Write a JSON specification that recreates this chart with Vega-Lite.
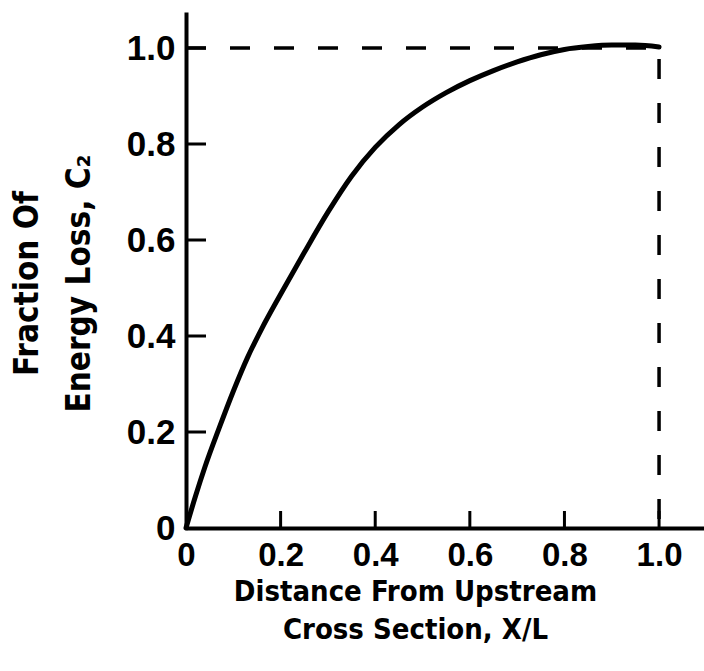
{
  "$schema": "https://vega.github.io/schema/vega-lite/v6.json",
  "autosize": "none",
  "padding": {"left": 186, "top": 12, "right": 0, "bottom": 143},
  "width": 518,
  "height": 516,
  "background": "white",
  "config": {
    "view": {"stroke": null},
    "axis": {
      "grid": false,
      "ticks": false,
      "domainColor": "black",
      "domainWidth": 4,
      "labelColor": "black",
      "labelFont": "Liberation Sans, sans-serif",
      "labelFontWeight": "bold",
      "titleColor": "black",
      "titleFont": "DejaVu Sans Condensed, sans-serif",
      "titleFontWeight": "bold"
    }
  },
  "datasets": {
    "curve": [
      {"x": 0.0, "c": 0.0},
      {"x": 0.02, "c": 0.066},
      {"x": 0.04, "c": 0.127},
      {"x": 0.07, "c": 0.208},
      {"x": 0.10, "c": 0.285},
      {"x": 0.13, "c": 0.355},
      {"x": 0.16, "c": 0.415},
      {"x": 0.20, "c": 0.487},
      {"x": 0.25, "c": 0.574},
      {"x": 0.30, "c": 0.658},
      {"x": 0.35, "c": 0.733},
      {"x": 0.40, "c": 0.793},
      {"x": 0.45, "c": 0.840},
      {"x": 0.50, "c": 0.877},
      {"x": 0.55, "c": 0.907},
      {"x": 0.60, "c": 0.932},
      {"x": 0.65, "c": 0.953},
      {"x": 0.70, "c": 0.971},
      {"x": 0.75, "c": 0.986},
      {"x": 0.80, "c": 0.997},
      {"x": 0.85, "c": 1.003},
      {"x": 0.90, "c": 1.006},
      {"x": 0.95, "c": 1.006},
      {"x": 1.00, "c": 1.002}
    ],
    "dash": [
      {"i": 0, "x": 0.0, "c": 1.0},
      {"i": 1, "x": 1.0, "c": 1.0},
      {"i": 2, "x": 1.0, "c": 0.0}
    ],
    "xticks": [{"v": 0.2}, {"v": 0.4}, {"v": 0.6}, {"v": 0.8}, {"v": 1.0}],
    "yticks": [{"v": 0.2}, {"v": 0.4}, {"v": 0.6}, {"v": 0.8}, {"v": 1.0}]
  },
  "layer": [
    {
      "data": {"name": "curve"},
      "mark": {"type": "line", "color": "black", "strokeWidth": 5, "interpolate": "monotone", "strokeCap": "round"},
      "encoding": {
        "x": {
          "field": "x",
          "type": "quantitative",
          "scale": {"domain": [0, 1.095], "nice": false, "zero": false},
          "axis": {
            "values": [0, 0.2, 0.4, 0.6, 0.8, 1.0],
            "labelExpr": "datum.value == 0 ? '0' : format(datum.value, '.1f')",
            "labelFontSize": 33,
            "labelPadding": 37,
            "labelBaseline": "alphabetic",
            "labelFlush": false,
            "title": ["Distance From Upstream", "Cross Section, X/L"],
            "titleFontSize": 29,
            "titleLineHeight": 38,
            "titleBaseline": "alphabetic",
            "titleAnchor": "start",
            "titleAlign": "center",
            "titleX": 229,
            "titleY": 72
          }
        },
        "y": {
          "field": "c",
          "type": "quantitative",
          "scale": {"domain": [0, 1.075], "nice": false, "zero": false},
          "axis": {
            "values": [0, 0.2, 0.4, 0.6, 0.8, 1.0],
            "labelExpr": "datum.value == 0 ? '0' : format(datum.value, '.1f')",
            "labelFontSize": 35,
            "labelPadding": 11,
            "labelFlush": false,
            "title": ["Fraction Of", "Energy Loss, C₂"],
            "titleFontSize": 33,
            "titleLineHeight": 52,
            "titleBaseline": "alphabetic",
            "titleAngle": -90,
            "titleAlign": "center",
            "titleAnchor": "start",
            "titleX": -149,
            "titleY": 271
          }
        }
      }
    },
    {
      "data": {"name": "dash"},
      "mark": {"type": "line", "color": "black", "strokeWidth": 3.5, "strokeDash": [20, 24], "clip": false},
      "encoding": {
        "x": {"field": "x", "type": "quantitative"},
        "y": {"field": "c", "type": "quantitative"},
        "order": {"field": "i", "type": "quantitative"}
      }
    },
    {
      "data": {"name": "xticks"},
      "mark": {"type": "tick", "color": "black", "orient": "vertical", "size": 34, "thickness": 3, "clip": true, "opacity": 1},
      "encoding": {
        "x": {"field": "v", "type": "quantitative"},
        "y": {"value": "height"}
      }
    },
    {
      "data": {"name": "yticks"},
      "mark": {"type": "tick", "color": "black", "orient": "horizontal", "size": 40, "thickness": 3, "clip": true, "opacity": 1},
      "encoding": {
        "y": {"field": "v", "type": "quantitative"},
        "x": {"value": 0}
      }
    }
  ]
}
